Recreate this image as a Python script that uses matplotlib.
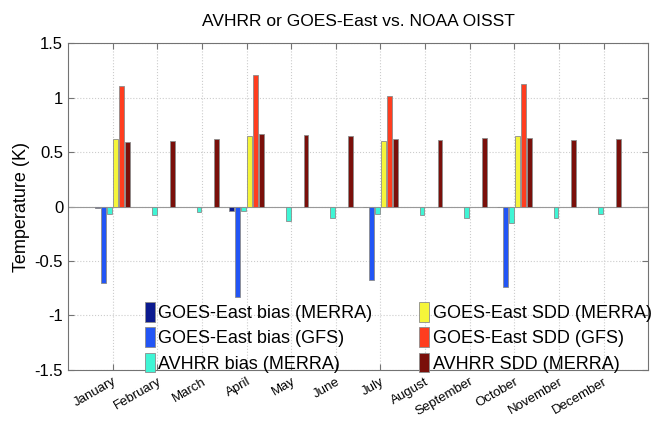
import matplotlib
matplotlib.use("Agg")
import matplotlib.pyplot as plt
import numpy as np

months = ["January", "February", "March", "April", "May", "June",
          "July", "August", "September", "October", "November", "December"]
nan = np.nan

# values in K
goes_bias_merra = [-0.01, nan, nan, -0.045, nan, nan, -0.005, nan, nan, -0.004, nan, nan]
goes_bias_gfs = [-0.70, nan, nan, -0.83, nan, nan, -0.67, nan, nan, -0.74, nan, nan]
avhrr_bias_merra = [-0.07, -0.08, -0.05, -0.04, -0.13, -0.11, -0.07, -0.08, -0.11, -0.15, -0.11, -0.065]
goes_sdd_merra = [0.62, nan, nan, 0.65, nan, nan, 0.60, nan, nan, 0.645, nan, nan]
goes_sdd_gfs = [1.11, nan, nan, 1.21, nan, nan, 1.01, nan, nan, 1.12, nan, nan]
avhrr_sdd_merra = [0.595, 0.60, 0.62, 0.665, 0.655, 0.645, 0.62, 0.61, 0.625, 0.63, 0.61, 0.615]

series = [goes_bias_merra, goes_bias_gfs, avhrr_bias_merra,
          goes_sdd_merra, goes_sdd_gfs, avhrr_sdd_merra]
labels = ["GOES-East bias (MERRA)", "GOES-East bias (GFS)", "AVHRR bias (MERRA)",
          "GOES-East SDD (MERRA)", "GOES-East SDD (GFS)", "AVHRR SDD (MERRA)"]
colors = ["#0b1a8f", "#2255f5", "#3ff5d5", "#f5f53a", "#ff3d1f", "#7a0f0a"]

plt.rcParams["font.family"] = ["Liberation Sans", "DejaVu Sans"]

fig = plt.figure(figsize=(6.56, 4.26), dpi=100)
ax = fig.add_axes([0.1037, 0.1315, 0.8843, 0.7675])

x = np.arange(1, 13)
n = len(series)
step = 0.8 / n
w = step * 0.8
for i, (vals, lab, col) in enumerate(zip(series, labels, colors)):
    ax.bar(x + (i - (n - 1) / 2) * step, vals, width=w, color=col,
           edgecolor="0.55", linewidth=0.6, label=lab, zorder=3)

ax.axhline(0, color="0.6", linewidth=0.8, zorder=2)
ax.set_xlim(0, 13)
ax.set_ylim(-1.5, 1.5)
ax.set_xticks(x)
ax.set_xticklabels(months, rotation=30, ha="right", rotation_mode="anchor", fontsize=9.5)
ax.set_yticks([-1.5, -1, -0.5, 0, 0.5, 1, 1.5])
ax.set_yticklabels(["-1.5", "-1", "-0.5", "0", "0.5", "1", "1.5"], fontsize=12)
ax.tick_params(direction="in", top=True, right=True, length=4, color="0.45")
ax.tick_params(axis="x", pad=4)
ax.grid(True, linestyle=":", color="0.8", linewidth=0.8, zorder=0)
for s in ax.spines.values():
    s.set_color("0.45")

ax.set_ylabel("Temperature (K)", fontsize=13, labelpad=3)
ax.set_title("AVHRR or GOES-East vs. NOAA OISST", fontsize=12.5, pad=12)

ax.legend(loc="lower left", bbox_to_anchor=(0.12, -0.03), ncol=2, frameon=False,
          fontsize=13, handlelength=0.55, handleheight=1.3, handletextpad=0.2,
          columnspacing=2.6, labelspacing=0.3, borderaxespad=0)

fig.savefig("out.png", dpi=100)
